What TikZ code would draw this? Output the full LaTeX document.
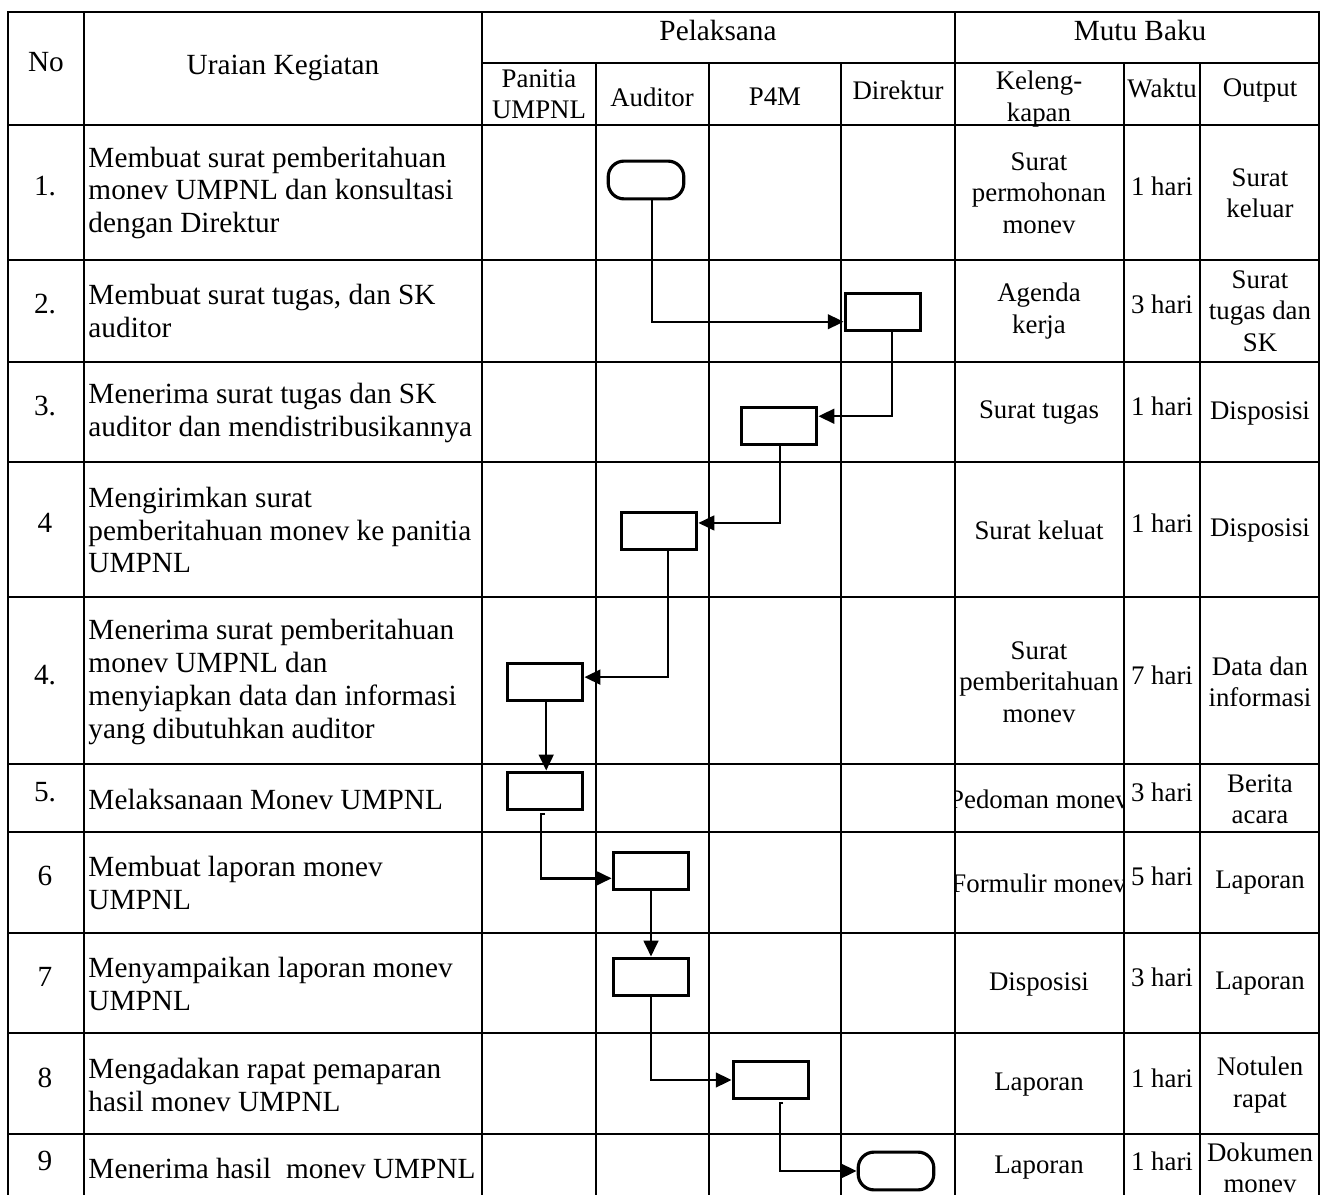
\documentclass[tikz,border=0pt]{standalone}
\usepackage{fontspec}
\setmainfont{Liberation Serif}
\usetikzlibrary{arrows.meta, positioning}

\begin{document}
\begin{tikzpicture}[x=0.41pt, y=-0.41pt,
    grid/.style={line width=0.55pt},
    head/.style={align=center, inner sep=0pt, font=\fontsize{12}{13.5}\selectfont},
    subhead/.style={align=center, inner sep=0pt, font=\fontsize{11}{12.9}\selectfont},
    desc/.style={anchor=west, align=left, inner sep=0pt, font=\fontsize{12}{13.5}\selectfont},
    cell/.style={align=center, inner sep=0pt, font=\fontsize{11}{12.9}\selectfont},
    act/.style={draw, line width=1.3pt, minimum width=31pt, minimum height=15.5pt, inner sep=0pt},
    term/.style={act, rounded corners=6.5pt},
    arr/.style={-{Triangle[length=6.5pt, width=6pt]}, line width=1pt}]
  \useasboundingbox (0,0) rectangle (1322,1195);

  % table frame
  \draw[grid] (8,1195) -- (8,12) -- (1319,12) -- (1319,1195);
  \foreach \x in {84,482,955} \draw[grid] (\x,12) -- (\x,1195);
  \foreach \x in {596,709,841,1124,1200} \draw[grid] (\x,63) -- (\x,1195);
  \draw[grid] (482,63) -- (1319,63);
  \foreach \y in {125,260,362,462,597,764,832,933,1033,1134} \draw[grid] (8,\y) -- (1319,\y);

  % header
  \node[head] (hno)   at (46,62)    {No};
  \node[head] (hur)   at (283,68)   {Uraian Kegiatan};
  \node[head] (hpel)  at (718,30)   {Pelaksana};
  \node[head] (hmutu) at (1140,30)  {Mutu Baku};
  \node[subhead] (hpan) at (539,94) {Panitia\\UMPNL};
  \node[subhead] (haud) at (652,97) {Auditor};
  \node[subhead] (hp4m) at (775,97) {P4M};
  \node[subhead] (hdir) at (898,90) {Direktur};
  \node[subhead] (hkel) at (1039,99) {Keleng-\\kapan};
  \node[subhead] (hwkt) at (1162,88) {Waktu};
  \node[subhead] (hout) at (1260,90) {Output};

  % rows
  \foreach \yc/\nr/\ur/\kel/\wkt/\outp [count=\i] in {
      193/{1.}/{Membuat surat pemberitahuan\\monev UMPNL dan konsultasi\\dengan Direktur}/{Surat\\permohonan\\monev}/{1 hari}/{Surat\\keluar},
      311/{2.}/{Membuat surat tugas, dan SK\\auditor}/{Agenda\\kerja}/{3 hari}/{Surat\\tugas dan\\SK},
      413/{3.}/{Menerima surat tugas dan SK\\auditor dan mendistribusikannya}/{Surat tugas}/{1 hari}/{Disposisi},
      530/{4}/{Mengirimkan surat\\pemberitahuan monev ke panitia\\UMPNL}/{Surat keluat}/{1 hari}/{Disposisi},
      682/{4.}/{Menerima surat pemberitahuan\\monev UMPNL dan\\menyiapkan data dan informasi\\yang dibutuhkan auditor}/{Surat\\pemberitahuan\\monev}/{7 hari}/{Data dan\\informasi},
      799/{5.}/{Melaksanaan Monev UMPNL}/{Pedoman monev}/{3 hari}/{Berita\\acara},
      883/{6}/{Membuat laporan monev\\UMPNL}/{Formulir monev}/{5 hari}/{Laporan},
      984/{7}/{Menyampaikan laporan monev\\UMPNL}/{Disposisi}/{3 hari}/{Laporan},
      1085/{8}/{Mengadakan rapat pemaparan\\hasil monev UMPNL}/{Laporan}/{1 hari}/{Notulen\\rapat},
      1168/{9}/{Menerima hasil \ monev UMPNL}/{Laporan}/{1 hari}/{Dokumen\\monev}}
  {
    \node[head] (no\i) at (45,\yc-7) {\nr};
    \node[desc] (ur\i) at (88,\yc) {\ur};
    \begin{scope}
      \clip (955,125) rectangle (1124,1195);
      \node[cell] (kel\i) at (1039,\yc) {\kel};
    \end{scope}
    \node[cell] (wkt\i) at (1162,\yc-7) {\wkt};
    \node[cell] (out\i) at (1260,\yc) {\outp};
  }

  % flow
  \node[term] (t1) at (646,180)  {};
  \node[act]  (b2) at (883,312)  {};
  \node[act]  (b3) at (779,426)  {};
  \node[act]  (b4) at (659,531)  {};
  \node[act]  (b5) at (545,682)  {};
  \node[act]  (b6) at (545,791)  {};
  \node[act]  (b7) at (651,871)  {};
  \node[act]  (b8) at (651,977)  {};
  \node[act]  (b9) at (771,1080) {};
  \node[term] (t2) at (896,1171) {};

  \draw[arr] ([xshift=2.5pt]t1.south) |- ([yshift=-4pt]b2.west);
  \draw[arr] ([xshift=3.7pt]b2.south) |- ([yshift=4pt]b3.east);
  \draw[arr] ([xshift=0.5pt]b3.south) |- ([yshift=3.3pt]b4.east);
  \draw[arr] ([xshift=3.7pt]b4.south) |- ([yshift=2pt]b5.east);
  \draw[arr] ([xshift=0.5pt]b5.south) -- ([xshift=0.5pt]b6.north);
  \draw[arr] ([yshift=-1pt]b6.south) -- ++(-4,0) |- ([yshift=-3pt]b7.west);
  \draw[arr] (b7.south) -- (b8.north);
  \draw[arr] (b8.south) |- (b9.west);
  \draw[arr] ([xshift=5pt,yshift=-1pt]b9.south) -- ++(-3,0) |- (t2.west);
\end{tikzpicture}
\end{document}
